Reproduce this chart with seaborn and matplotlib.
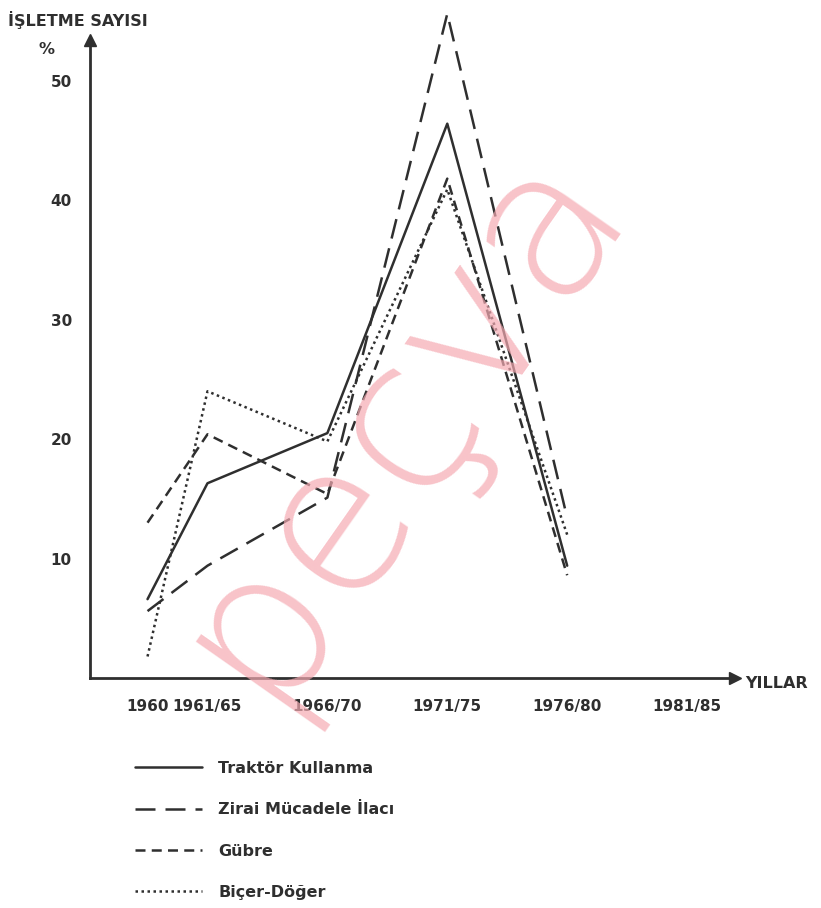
import pandas as pd
import matplotlib.pyplot as plt
import seaborn as sns

# Data
periods = ['1960', '1961/65', '1966/70', '1971/75', '1976/80', '1981/85']
period_mid = [1960, 1962.5, 1967.5, 1972.5, 1977.5, 1982.5]

traktor = [6.6, 16.3, 20.5, 46.4, 9.4]
zirai = [5.6, 9.4, 15.1, 55.6, 13.4]
gubre = [13.0, 20.4, 15.4, 41.8, 8.6]
bicer = [1.8, 24.0, 19.8, 40.9, 12.0]

series_names = ['Traktör Kullanma', 'Zirai Mücadele İlacı', 'Gübre', 'Biçer-Döğer']
series_values = [traktor, zirai, gubre, bicer]

rows = []
for name, vals in zip(series_names, series_values):
    for x, v in zip(period_mid, vals):
        rows.append({'x': x, 'y': v, 'seri': name})
df = pd.DataFrame(rows)

sns.set_style('white')
plt.rcParams['font.family'] = ['DejaVu Sans']
ink = '#2f2f2f'

fig = plt.figure(figsize=(8.21, 9.08), dpi=100)
ax = fig.add_axes([0.1096, 0.2533, 0.7857, 0.7026])

# watermark
fig.text(0.485, 0.54, 'peçva', fontsize=150, color='#f5aab2', rotation=55,
         ha='center', va='center', zorder=0, alpha=0.7, fontweight='light')
ax.patch.set_alpha(0)

dash_map = {
    'Traktör Kullanma': '',
    'Zirai Mücadele İlacı': (8, 4),
    'Gübre': (4, 2.5),
    'Biçer-Döğer': (1, 1.4),
}
sns.lineplot(data=df, x='x', y='y', style='seri', dashes=dash_map,
             color=ink, linewidth=1.8, ax=ax, legend=True)
for line in ax.get_lines():
    line.set_clip_on(False)

ax.set_xlim(1957.6, 1984.5)
ax.set_ylim(0, 53.4)
ax.set_xticks(period_mid)
ax.set_xticklabels(periods, fontsize=11, fontweight='bold', color=ink)
ax.set_yticks([10, 20, 30, 40, 50])
ax.set_yticklabels(['10', '20', '30', '40', '50'], fontsize=11, fontweight='bold', color=ink)
ax.tick_params(axis='both', direction='out', length=5, width=1.5, color=ink, pad=8)
ax.tick_params(axis='x', pad=10)
ax.set_xlabel('')
ax.set_ylabel('')

for side in ['top', 'right']:
    ax.spines[side].set_visible(False)
for side in ['left', 'bottom']:
    ax.spines[side].set_color(ink)
    ax.spines[side].set_linewidth(2)

# arrow heads
ax.plot(0, 1, marker='^', color=ink, markersize=9, transform=ax.transAxes, clip_on=False)
ax.plot(1, 0, marker='>', color=ink, markersize=9, transform=ax.transAxes, clip_on=False)

fig.text(8 / 821, 1 - 20 / 908, 'İŞLETME SAYISI', fontsize=11.5, fontweight='bold',
         color=ink, va='center', ha='left')
fig.text(46 / 821, 1 - 50 / 908, '%', fontsize=11.5, fontweight='bold',
         color=ink, va='center', ha='center')
fig.text(745 / 821, 1 - 683 / 908, 'YILLAR', fontsize=11.5, fontweight='bold',
         color=ink, va='center', ha='left')

sns.move_legend(ax, 'upper left', bbox_to_anchor=(135 / 821, 1 - 761 / 908),
                bbox_transform=fig.transFigure, frameon=False, title=None,
                fontsize=11.5, handlelength=4.2, handletextpad=1.0,
                labelspacing=1.65, borderpad=0, borderaxespad=0)
for t in ax.get_legend().get_texts():
    t.set_fontweight('bold')
    t.set_color(ink)

fig.savefig('out.png', dpi=100)
